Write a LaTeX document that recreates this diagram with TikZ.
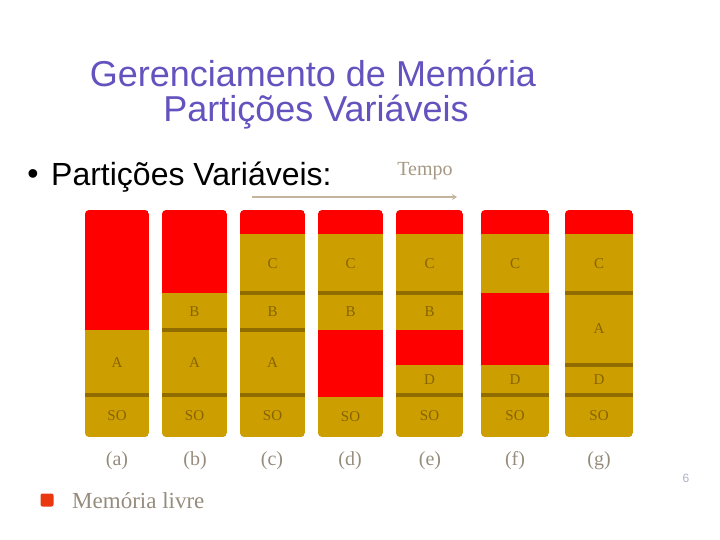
\documentclass[tikz,border=0pt]{standalone}
\usepackage{fontspec}
\setmainfont{Liberation Serif}
\newfontfamily\arialf{Liberation Sans}
\usetikzlibrary{arrows.meta}
\definecolor{gold}{RGB}{204,158,0}
\definecolor{golddark}{RGB}{145,108,0}
\definecolor{freecol}{RGB}{255,0,0}
\definecolor{titlecol}{RGB}{100,82,190}
\definecolor{labcol}{RGB}{135,100,0}
\definecolor{tancol}{RGB}{195,180,155}
\definecolor{graylab}{RGB}{150,140,125}
\definecolor{legred}{RGB}{235,55,15}
\definecolor{pagecol}{RGB}{170,178,195}
\tikzset{
  segbase/.style={inner sep=0pt, outer sep=0pt, anchor=north west, font=\fontsize{15}{15}\selectfont, text=labcol},
  goldseg/.style={segbase, fill=gold},
  freeseg/.style={segbase, fill=freecol},
  divider/.style={draw=golddark, line width=4pt},
  collab/.style={font=\fontsize{20}{20}\selectfont, text=graylab},
}
\newcommand\mseg[7]{%
  \node[#6, minimum width=#3pt, minimum height={(#5-#4)*1pt}] (#1) at (#2,#4) {#7};}
\newcommand\colclip[2]{\clip[rounded corners=4pt] (#1,210) rectangle ({#1+#2},437);}
\begin{document}
\begin{tikzpicture}[x=1pt,y=-1pt]
\useasboundingbox (0,0) rectangle (720,540);
% title
\node[font=\arialf\fontsize{36}{40}\selectfont, text=titlecol] (t1) at (313,73) {Gerenciamento de Memória};
\node[font=\arialf\fontsize{36}{40}\selectfont, text=titlecol] (t2) at (316,112) {Partições Variáveis};
% bullet
\node[font=\arialf\fontsize{32}{32}\selectfont] (bul) at (33,177) {\textbullet};
\node[font=\arialf\fontsize{32}{36}\selectfont, anchor=west, inner sep=0pt] (btxt) at (51,177) {Partições Variáveis:};
% tempo
\node[font=\fontsize{20}{20}\selectfont, text=tancol!85!black] (tempo) at (425,171) {Tempo};
\coordinate (ta) at (252,197);
\coordinate (tb) at (457,197);
\draw[tancol, line width=2pt, -{Stealth[length=5pt,width=6pt]}] (ta) -- (tb);
% (a)
\begin{scope}\colclip{85}{64}
\mseg{a1}{85}{64}{210}{330}{freeseg}{}
\mseg{a2}{85}{64}{330}{395}{goldseg}{A}
\mseg{a3}{85}{64}{395}{437}{goldseg}{SO}
\draw[divider] (a3.north west) -- (a3.north east);
\end{scope}
% (b)
\begin{scope}\colclip{162}{65}
\mseg{b1}{162}{65}{210}{293}{freeseg}{}
\mseg{b2}{162}{65}{293}{330}{goldseg}{B}
\mseg{b3}{162}{65}{330}{395}{goldseg}{A}
\mseg{b4}{162}{65}{395}{437}{goldseg}{SO}
\draw[divider] (b3.north west) -- (b3.north east);
\draw[divider] (b4.north west) -- (b4.north east);
\end{scope}
% (c)
\begin{scope}\colclip{240}{65}
\mseg{c1}{240}{65}{210}{234}{freeseg}{}
\mseg{c2}{240}{65}{234}{293}{goldseg}{C}
\mseg{c3}{240}{65}{293}{330}{goldseg}{B}
\mseg{c4}{240}{65}{330}{395}{goldseg}{A}
\mseg{c5}{240}{65}{395}{437}{goldseg}{SO}
\draw[divider] (c3.north west) -- (c3.north east);
\draw[divider] (c4.north west) -- (c4.north east);
\draw[divider] (c5.north west) -- (c5.north east);
\end{scope}
% (d)
\begin{scope}\colclip{318}{65}
\mseg{d1}{318}{65}{210}{234}{freeseg}{}
\mseg{d2}{318}{65}{234}{293}{goldseg}{C}
\mseg{d3}{318}{65}{293}{330}{goldseg}{B}
\mseg{d4}{318}{65}{330}{397}{freeseg}{}
\mseg{d5}{318}{65}{397}{437}{goldseg}{SO}
\draw[divider] (d3.north west) -- (d3.north east);
\end{scope}
% (e)
\begin{scope}\colclip{396}{67}
\mseg{e1}{396}{67}{210}{234}{freeseg}{}
\mseg{e2}{396}{67}{234}{293}{goldseg}{C}
\mseg{e3}{396}{67}{293}{330}{goldseg}{B}
\mseg{e4}{396}{67}{330}{365}{freeseg}{}
\mseg{e5}{396}{67}{365}{395}{goldseg}{D}
\mseg{e6}{396}{67}{395}{437}{goldseg}{SO}
\draw[divider] (e3.north west) -- (e3.north east);
\draw[divider] (e6.north west) -- (e6.north east);
\end{scope}
% (f)
\begin{scope}\colclip{481}{68}
\mseg{f1}{481}{68}{210}{234}{freeseg}{}
\mseg{f2}{481}{68}{234}{293}{goldseg}{C}
\mseg{f3}{481}{68}{293}{365}{freeseg}{}
\mseg{f4}{481}{68}{365}{395}{goldseg}{D}
\mseg{f5}{481}{68}{395}{437}{goldseg}{SO}
\draw[divider] (f5.north west) -- (f5.north east);
\end{scope}
% (g)
\begin{scope}\colclip{565}{68}
\mseg{g1}{565}{68}{210}{234}{freeseg}{}
\mseg{g2}{565}{68}{234}{293}{goldseg}{C}
\mseg{g3}{565}{68}{293}{365}{goldseg}{A}
\mseg{g4}{565}{68}{365}{395}{goldseg}{D}
\mseg{g5}{565}{68}{395}{437}{goldseg}{SO}
\draw[divider] (g3.north west) -- (g3.north east);
\draw[divider] (g4.north west) -- (g4.north east);
\draw[divider] (g5.north west) -- (g5.north east);
\end{scope}
% column labels
\node[collab] (la) at (117,461) {(a)};
\node[collab] (lb) at (195,461) {(b)};
\node[collab] (lc) at (272,461) {(c)};
\node[collab] (ld) at (350,461) {(d)};
\node[collab] (le) at (430,461) {(e)};
\node[collab] (lf) at (515,461) {(f)};
\node[collab] (lg) at (599,461) {(g)};
% legend
\node[fill=legred, minimum size=13pt, inner sep=0pt, rounded corners=2pt] (leg) at (47,500) {};
\node[font=\fontsize{23}{23}\selectfont, text=graylab, anchor=west, inner sep=0pt] (legt) at (72,501) {Memória livre};
% page number
\node[font=\arialf\fontsize{12}{12}\selectfont, text=pagecol] (pg) at (686,478) {6};
\end{tikzpicture}
\end{document}
